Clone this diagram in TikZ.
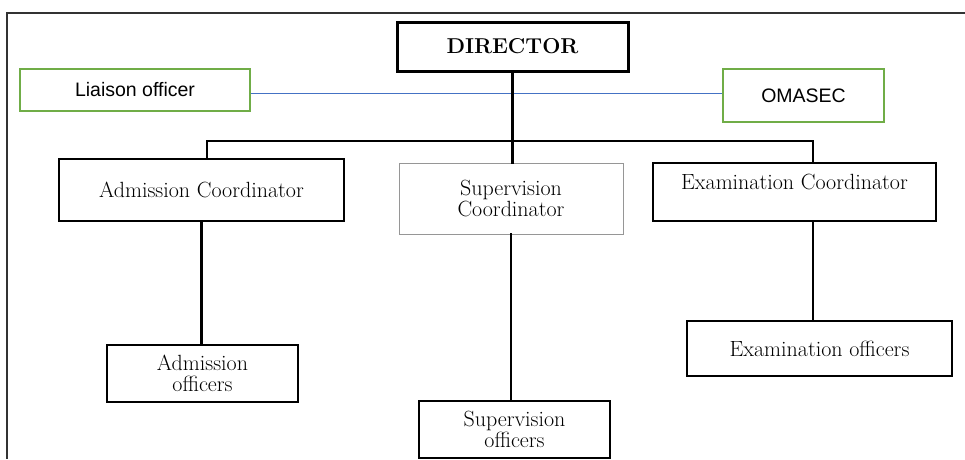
\documentclass[tikz,border=0pt]{standalone}
\usepackage{fontspec}
\usepackage{tikz}
\usetikzlibrary{calc}
\newfontfamily\officerfont{Liberation Sans}
\definecolor{officegreen}{RGB}{112,173,71}
\definecolor{linkblue}{RGB}{68,114,196}
\definecolor{boxgray}{RGB}{150,150,150}
\tikzset{
  orgbox/.style={draw=black, line width=1.6pt, rectangle, align=center, inner sep=2pt,
    font=\fontsize{22}{21}\selectfont},
  topbox/.style={orgbox, line width=3pt, font=\fontsize{21.5}{21}\selectfont\bfseries},
  sidebox/.style={orgbox, draw=officegreen, line width=1.3pt, font=\fontsize{19.5}{21}\selectfont\officerfont},
  paleorgbox/.style={orgbox, draw=boxgray, line width=0.9pt},
  tie/.style={line width=2.8pt, line cap=rect},
  linkline/.style={line width=0.8pt, color=linkblue}
}

\begin{document}
\begin{tikzpicture}[x=1pt, y=-1pt]
			%%%%% START %%%%%
			\useasboundingbox (0, 0) rectangle (965, 459);
			
			\draw[line width=1.2pt, color=black!80] (965, 13) -- (7, 13) -- (7, 459);
			
			\node[topbox, minimum width=231pt, minimum height=49pt] (dir) at (512.5, 46.5) {DIRECTOR};
			
			\node[sidebox, minimum width=230pt, minimum height=42pt] (liaison) at (135, 90) {Liaison officer};
			\node[sidebox, minimum width=161pt, minimum height=53pt] (omasec) at (803.5, 95.5) {OMASEC};
			
			\node[orgbox, minimum width=285pt, minimum height=62pt] (admco) at (201.5, 190) {Admission Coordinator};
			\node[paleorgbox, minimum width=224pt, minimum height=71pt] (supco) at (511, 198.5) {Supervision\\Coordinator};
			\node[orgbox, minimum width=283pt, minimum height=58pt] (examco) at (794.5, 192) {Examination Coordinator\\\mbox{}};
			
			\node[orgbox, minimum width=191pt, minimum height=57pt] (admoff) at (202.5, 373.5) {Admission\\officers};
			\node[orgbox, minimum width=191pt, minimum height=57pt] (supoff) at (514.5, 429.5) {Supervision\\officers};
			\node[orgbox, minimum width=265pt, minimum height=55pt] (examoff) at (819.5, 348.5) {Examination officers};
			
			\coordinate (barL) at (207, 141);
			\coordinate (barR) at (813, 141);
			
			\draw[linkline] ([yshift=-3pt]liaison.east) -- ([yshift=2.5pt]omasec.west);
			
			\draw[tie] (dir.south) -- (dir.south |- supco.north);
			\draw[tie] (barL |- admco.north) -- (barL) -- (barR) -- (barR |- examco.north);
			
			\draw[tie] (admco.south) -- (admco.south |- admoff.north);
			\draw[tie] (supco.south) -- (supco.south |- supoff.north);
			\draw[tie] (barR |- examco.south) -- (barR |- examoff.north);
			
			%%%%% END %%%%%
		\end{tikzpicture}
\end{document}
